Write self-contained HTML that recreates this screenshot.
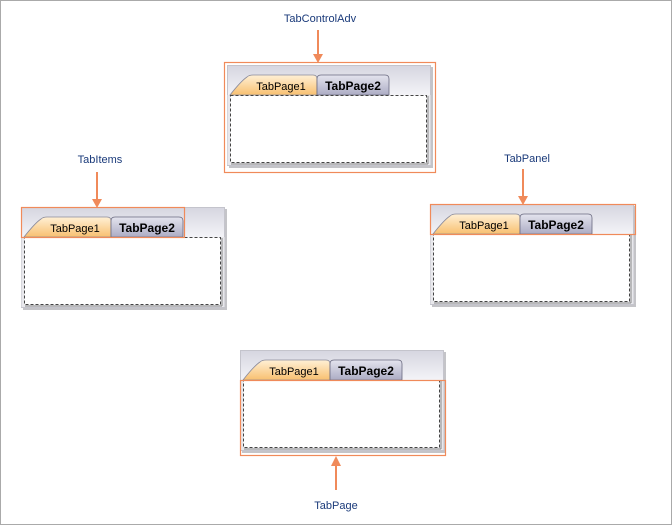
<!DOCTYPE html>
<html><head><style>
html,body{margin:0;padding:0;background:#fff}
svg{display:block}
text{font-family:"Liberation Sans",sans-serif}
</style></head><body>
<svg width="672" height="525" viewBox="0 0 672 525" xmlns="http://www.w3.org/2000/svg">
<defs>
<linearGradient id="hdr" x1="0" y1="0" x2="0" y2="1">
<stop offset="0" stop-color="#d6d6e0"/><stop offset="0.3" stop-color="#f4f4f8"/><stop offset="1" stop-color="#f0f0f4"/>
</linearGradient>
<linearGradient id="t1" x1="0" y1="0" x2="0" y2="1">
<stop offset="0" stop-color="#fff0d6"/><stop offset="1" stop-color="#f8c070"/>
</linearGradient>
<linearGradient id="t2" x1="0" y1="0" x2="0" y2="1">
<stop offset="0" stop-color="#e4e4ee"/><stop offset="1" stop-color="#acacc4"/>
</linearGradient>
<g id="ctl">
<rect x="2" y="2" width="204" height="101" fill="#c4c4c8"/>
<rect x="0.5" y="0.5" width="203" height="100" fill="url(#hdr)" stroke="#c4c4cc"/>
<rect x="0.5" y="30" width="203" height="70" fill="#e8e8ec"/>
<path d="M3,30 Q14,16 20,12 Q22,10 26,10 L86,10 Q90,10 90,14 L90,30 Z" fill="url(#t1)" stroke="#8a8a9a" stroke-width="0.8"/>
<path d="M90,30 L90,14 Q90,10 94,10 L158,10 Q162,10 162,14 L162,30 Z" fill="url(#t2)" stroke="#6a6a80" stroke-width="0.8"/>
<text x="54" y="25" font-size="11" text-anchor="middle" fill="#000">TabPage1</text>
<text x="126" y="25" font-size="12" font-weight="bold" text-anchor="middle" fill="#000">TabPage2</text>
<rect x="3.5" y="30.5" width="196" height="67" fill="#fff" stroke="#444" stroke-dasharray="3,2"/>
<line x1="201" y1="31" x2="201" y2="99" stroke="#888"/>
<line x1="4" y1="99" x2="201" y2="99" stroke="#888"/>
</g>
</defs>
<rect x="0.5" y="0.5" width="671" height="524" fill="#fff" stroke="#aaa"/>

<use href="#ctl" x="227" y="65"/>
<use href="#ctl" x="21" y="207"/>
<use href="#ctl" x="430" y="204"/>
<use href="#ctl" x="240" y="350"/>

<g fill="none" stroke="#f08a5a" stroke-width="1.2">
<rect x="224.5" y="62.5" width="211" height="110"/>
<rect x="21.5" y="207.5" width="163" height="30"/>
<rect x="430.5" y="204.5" width="205" height="30"/>
<rect x="240.5" y="380.5" width="205" height="75"/>
</g>

<g stroke="#f08a5a" stroke-width="2" fill="#f08a5a">
<line x1="318" y1="30" x2="318" y2="56"/><path d="M313,54 L323,54 L318,63 Z" stroke="none"/>
<line x1="97" y1="172" x2="97" y2="201"/><path d="M92,199 L102,199 L97,208 Z" stroke="none"/>
<line x1="523" y1="169" x2="523" y2="198"/><path d="M518,196 L528,196 L523,205 Z" stroke="none"/>
<line x1="336" y1="464" x2="336" y2="490"/><path d="M331,466 L341,466 L336,456 Z" stroke="none"/>
</g>

<g font-size="11" fill="#1a3a7a" text-anchor="middle">
<text x="320" y="22">TabControlAdv</text>
<text x="100" y="163">TabItems</text>
<text x="527" y="162">TabPanel</text>
<text x="336" y="509">TabPage</text>
</g>
</svg>
</body></html>
